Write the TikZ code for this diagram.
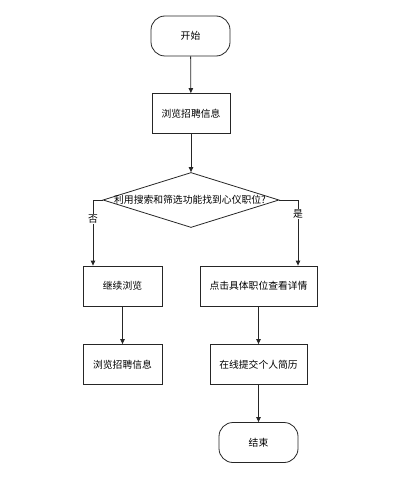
\documentclass[tikz,border=0pt]{standalone}
\usepackage{fontspec}
\setmainfont{Noto Sans CJK SC}
\usetikzlibrary{arrows.meta,shapes.geometric}
\begin{document}
\begin{tikzpicture}[x=1pt,y=-1pt,
  every node/.style={font=\fontsize{9.8}{11}\selectfont, text=black},
  proc/.style={draw=black!85, line width=0.8pt, minimum height=40pt, inner sep=0pt},
  term/.style={draw=black!85, line width=0.8pt, rounded corners=14pt, minimum width=79pt, minimum height=40pt, inner sep=0pt},
  dec/.style={draw=black!85, line width=0.8pt, diamond, aspect=3.2, minimum width=176pt, minimum height=55pt, inner sep=0pt},
  arr/.style={draw=black!85, line width=0.8pt, -{Triangle[length=5pt,width=4.5pt]}},
  lab/.style={font=\fontsize{9.8}{11}\selectfont}]
\useasboundingbox (0,0) rectangle (414,484);
\node[term] (start) at (190.5,36) {开始};
\node[proc, minimum width=78pt] (browse1) at (191,113.5) {浏览招聘信息};
\node[dec] (q) at (191,200) {};
\node at (190,200) {利用搜索和筛选功能找到心仪职位?};
\node[proc, minimum width=79pt] (cont) at (122.5,286) {继续浏览};
\node[proc, minimum width=117pt] (click) at (258.5,286) {点击具体职位查看详情};
\node[proc, minimum width=79pt] (browse2) at (122.5,364.5) {浏览招聘信息};
\node[proc, minimum width=97pt] (submit) at (258.5,364.5) {在线提交个人简历};
\node[term] (end) at (258.5,442.5) {结束};
\coordinate (lc) at (93,200);
\coordinate (rc) at (298,200);
\draw[arr] (start) -- (browse1);
\draw[arr] (browse1) -- (q.north);
\draw[arr] (q.west) -- (lc) -- (lc |- cont.north);
\draw[arr] (q.east) -- (rc) -- (rc |- click.north);
\draw[arr] (cont) -- (browse2);
\draw[arr] (click) -- (submit);
\draw[arr] (submit) -- (end);
\node[lab, fill=white, inner sep=0.5pt] (no) at (93,219) {否};
\node[lab, fill=white, inner sep=0.5pt] (yes) at (298,214) {是};
\end{tikzpicture}
\end{document}
